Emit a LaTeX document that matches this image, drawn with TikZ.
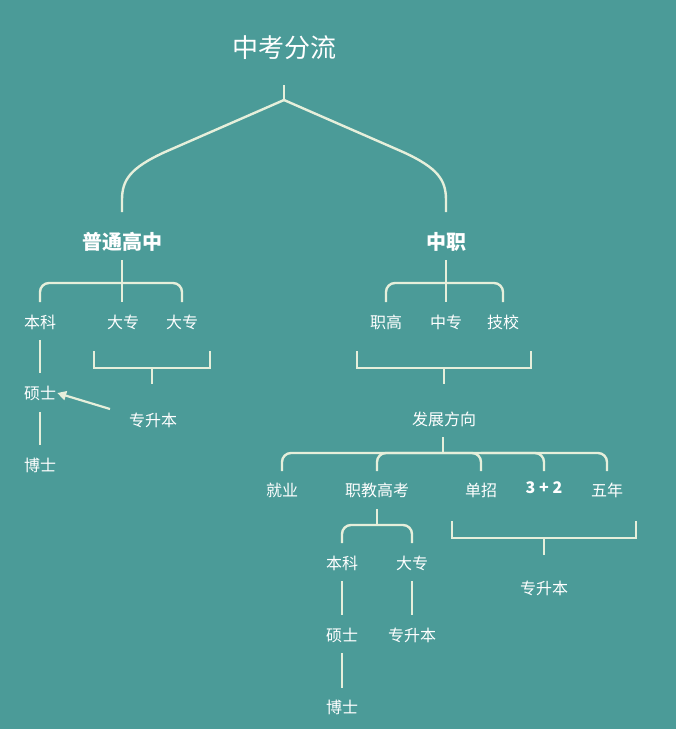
\documentclass[tikz,border=0pt]{standalone}
\usepackage{fontspec}
\setmainfont{Noto Sans CJK SC}
\usetikzlibrary{arrows.meta}
\definecolor{bg}{HTML}{4B9B98}
\definecolor{ln}{HTML}{E6EFDB}
\begin{document}
\begin{tikzpicture}[x=1pt,y=-1pt,
  lbl/.style={text=white,font=\fontsize{16}{18}\selectfont,inner sep=1pt},
  big/.style={text=white,font=\fontsize{20}{22}\selectfont\bfseries,inner sep=1pt},
  conn/.style={draw=ln,line width=2.4pt},
  rc/.style={conn,rounded corners=9pt}]
\fill[bg] (0,0) rectangle (676,729);
\useasboundingbox (0,0) rectangle (676,729);
\node[text=white,font=\fontsize{26}{28}\selectfont] (title) at (284,48) {中考分流};
\coordinate (t0) at (284,85);
\coordinate (t1) at (284,100);
\draw[conn] (t0) -- (t1);
\draw[conn] (t1) -- (165,152) .. controls (130,168) and (122,180) .. (122,200) -- (122,212);
\draw[conn] (t1) -- (403,152) .. controls (438,168) and (446,180) .. (446,200) -- (446,212);
\node[big] (pt) at (122,242) {普通高中};
\node[big] (zz) at (446,242) {中职};
% left
\draw[conn] (122,260) -- (122,302);
\draw[rc] (40,302) -- (40,283) -- (182,283) -- (182,302);
\node[lbl] (bk1) at (40,322) {本科};
\node[lbl] (dz1) at (123,322) {大专};
\node[lbl] (dz2) at (182,322) {大专};
\node[lbl] (ss1) at (40,393) {硕士};
\node[lbl] (bs1) at (40,465) {博士};
\draw[conn] (40,340) -- (40,373);
\draw[conn] (40,412) -- (40,445);
\draw[conn] (94,351) -- (94,368) -- (210,368) -- (210,351);
\draw[conn] (152,368) -- (152,384);
\node[lbl] (zsb1) at (153,420) {专升本};
\coordinate (a0) at (110,409);
\draw[draw=ln,line width=2.2pt,-{Triangle[length=9pt,width=9pt]}] (a0) -- (ss1.east);
% right
\draw[conn] (446,260) -- (446,302);
\draw[rc] (386,302) -- (386,283) -- (503,283) -- (503,302);
\node[lbl] (zg) at (386,322) {职高};
\node[lbl] (zzh) at (446,322) {中专};
\node[lbl] (jx) at (503,322) {技校};
\draw[conn] (357,351) -- (357,368) -- (531,368) -- (531,351);
\draw[conn] (444,368) -- (444,384);
\node[lbl] (fz) at (444,419) {发展方向};
\draw[conn] (443,437) -- (443,453);
\draw[rc] (282,471) -- (282,453) -- (607,453) -- (607,471);
\draw[rc] (377,471) -- (377,453) -- (481,453) -- (481,471);
\draw[rc] (481,453) -- (544,453) -- (544,471);
\node[lbl] (jy) at (282,490) {就业};
\node[lbl] (zj) at (377,490) {职教高考};
\node[lbl] (dzh) at (481,490) {单招};
\node[lbl,font=\fontsize{16}{18}\selectfont\bfseries] (sj) at (544,488) {3 + 2};
\node[lbl] (wn) at (607,490) {五年};
\draw[conn] (377,509) -- (377,525);
\draw[rc] (342,543) -- (342,525) -- (412,525) -- (412,543);
\node[lbl] (bk2) at (342,563) {本科};
\node[lbl] (dz3) at (412,563) {大专};
\draw[conn] (342,581) -- (342,615);
\draw[conn] (412,581) -- (412,615);
\node[lbl] (ss2) at (342,635) {硕士};
\node[lbl] (zsb2) at (412,635) {专升本};
\draw[conn] (342,653) -- (342,688);
\node[lbl] (bs2) at (342,707) {博士};
\draw[conn] (452,521) -- (452,538) -- (636,538) -- (636,521);
\draw[conn] (544,538) -- (544,555);
\node[lbl] (zsb3) at (544,588) {专升本};
\end{tikzpicture}
\end{document}
